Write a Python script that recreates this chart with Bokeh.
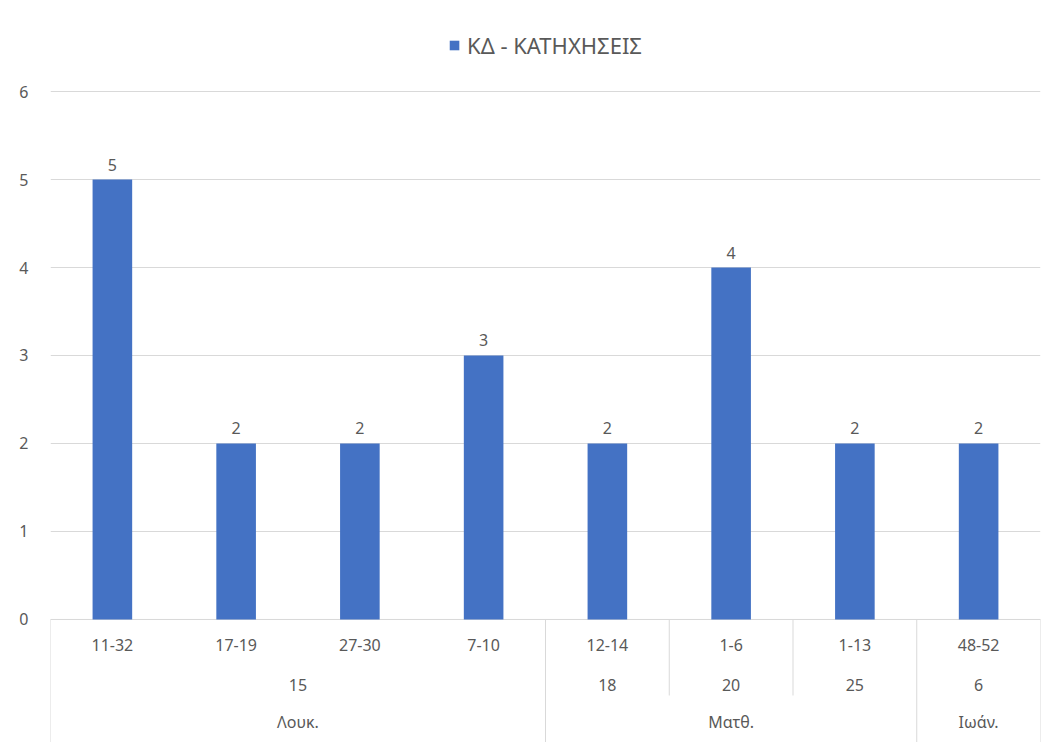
from bokeh.plotting import figure
from bokeh.models import ColumnDataSource, Range1d, FixedTicker, Legend, LegendItem
from bokeh.embed import file_html
from bokeh.resources import INLINE
from bokeh.core.properties import value

# ---- data ----
books = ["Λουκ.", "Λουκ.", "Λουκ.", "Λουκ.", "Ματθ.", "Ματθ.", "Ματθ.", "Ιωάν."]
chapters = ["15", "15", "15", "15", "18", "20", "25", "6"]
verses = ["11-32", "17-19", "27-30", "7-10", "12-14", "1-6", "1-13", "48-52"]
counts = [5, 2, 2, 3, 2, 4, 2, 2]
series_name = "ΚΔ - ΚΑΤΗΧΗΣΕΙΣ"
y_ticks = [0, 1, 2, 3, 4, 5, 6]

# ---- style ----
FONT = "Noto Sans"
TXT = "#595959"
GRID = "#d9d9d9"
BAR = "#4472C4"
Y_BOTTOM, Y_TOP = -1.398, 6.807
ROW_Y = [-0.295, -0.739, -1.17]
CHAP_SEP_BOTTOM = -0.864


def runs(keys):
    out, start = [], 0
    for i in range(1, len(keys) + 1):
        if i == len(keys) or keys[i] != keys[start]:
            out.append((start, i, keys[start]))
            start = i
    return out


n = len(verses)
p = figure(width=1054, height=742, output_backend="svg", toolbar_location=None,
           x_axis_type=None, x_range=Range1d(0, n), y_range=Range1d(Y_BOTTOM, Y_TOP),
           min_border_left=50, min_border_right=14, min_border_top=20, min_border_bottom=0)
p.outline_line_color = None
p.xgrid.visible = False
p.ygrid.ticker = FixedTicker(ticks=y_ticks)
p.ygrid.grid_line_color = GRID
p.yaxis.ticker = FixedTicker(ticks=y_ticks)
p.yaxis.axis_line_color = None
p.yaxis.major_tick_line_color = None
p.yaxis.minor_tick_line_color = None
p.yaxis.major_label_standoff = 16
p.yaxis.major_label_text_font = FONT
p.yaxis.major_label_text_font_size = "16px"
p.yaxis.major_label_text_color = TXT

xs = [i + 0.5 for i in range(n)]
src = ColumnDataSource(dict(x=xs, top=counts, lab=[str(c) for c in counts], v=verses))

# axis line + separators
p.segment(x0=[0], y0=[0], x1=[n], y1=[0], line_color=GRID, line_width=1)
book_runs = runs(books)
chap_runs = runs(list(zip(books, chapters)))
book_edges = sorted({r[0] for r in book_runs} | {r[1] for r in book_runs})
chap_edges = sorted(({r[0] for r in chap_runs} | {r[1] for r in chap_runs}) - set(book_edges))
p.segment(x0=book_edges, y0=[0] * len(book_edges), x1=book_edges, y1=[Y_BOTTOM] * len(book_edges),
          line_color=GRID, line_width=1)
p.segment(x0=chap_edges, y0=[0] * len(chap_edges), x1=chap_edges, y1=[CHAP_SEP_BOTTOM] * len(chap_edges),
          line_color=GRID, line_width=1)

bars = p.vbar(x="x", top="top", bottom=0, width=0.32, source=src, fill_color=BAR, line_color=None)

p.text(x="x", y="top", text="lab", source=src, y_offset=-9, text_align="center",
       text_baseline="bottom", text_font=value(FONT), text_font_size="16px", text_color=TXT)

# category labels
p.text(x="x", y=ROW_Y[0], text="v", source=src, text_align="center", text_baseline="middle",
       text_font=value(FONT), text_font_size="16px", text_color=TXT)
p.text(x=[(a + b) / 2 for a, b, _ in chap_runs], y=[ROW_Y[1]] * len(chap_runs),
       text=[k[1] for _, _, k in chap_runs], text_align="center", text_baseline="middle",
       text_font=value(FONT), text_font_size="16px", text_color=TXT)
p.text(x=[(a + b) / 2 for a, b, _ in book_runs], y=[ROW_Y[2]] * len(book_runs),
       text=[k for _, _, k in book_runs], text_align="center", text_baseline="middle",
       text_font=value(FONT), text_font_size="16px", text_color=TXT)

legend = Legend(items=[LegendItem(label=series_name, renderers=[bars])], location="top_center",
                orientation="horizontal", margin=10, padding=5, border_line_color=None,
                background_fill_alpha=0, glyph_width=12, glyph_height=12, label_standoff=7,
                label_text_font=FONT, label_text_font_size="22px", label_text_color=TXT)
p.add_layout(legend)

open("out.html", "w").write(file_html(p, INLINE, title="chart"))
